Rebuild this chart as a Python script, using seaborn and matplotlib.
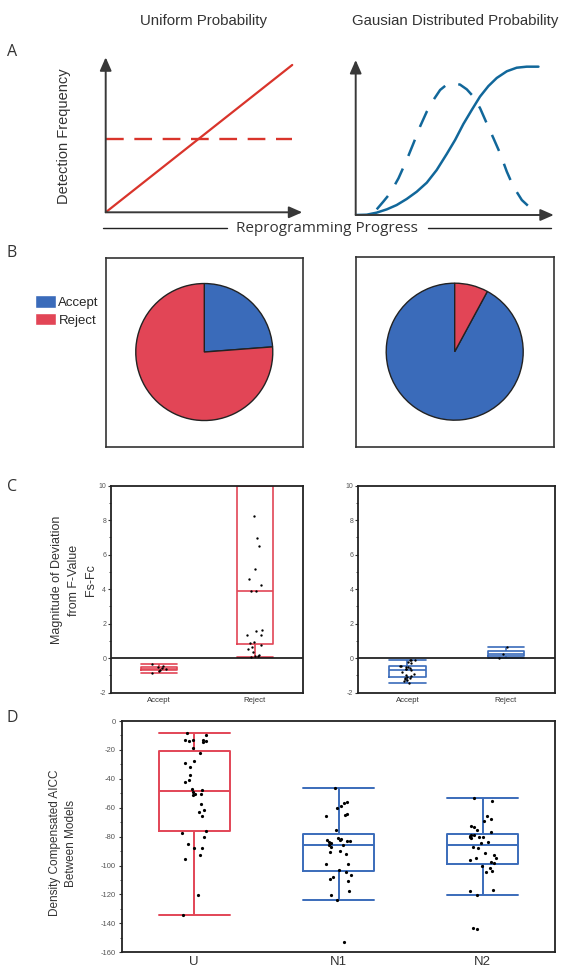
import numpy as np
import pandas as pd
import matplotlib
matplotlib.use("Agg")
import matplotlib.pyplot as plt
import matplotlib.ticker as mticker
from matplotlib.patches import Patch
from matplotlib.lines import Line2D
import seaborn as sns

# ---------------- data ----------------
# A: schematic curves, x and y in 0-100 units
unif_x = [0, 100]
unif_cum = [0, 100]          # solid line
unif_dens = [50, 50]         # dashed line

gauss_cum_x = [0, 6.0, 11.5, 17.0, 22.4, 27.9, 33.4, 38.9, 44.3, 49.8,
               54.4, 58.9, 63.5, 68.0, 72.6, 77.2, 82.7, 88.1, 93.6, 100]
gauss_cum_y = [0, 0.2, 1.6, 3.8, 6.7, 10.8, 15.7, 21.8, 30.3, 41.1,
               50.6, 61.3, 70.8, 79.8, 86.9, 92.4, 96.9, 99.3, 100, 100]
gauss_pdf_x = [11.5, 15.1, 18.8, 23.4, 27.9, 31.6, 35.2, 38.9, 42.5, 46.2, 49.8, 53.5,
               57.1, 60.8, 64.4, 68.1, 71.7, 75.4, 79.0, 82.7, 86.3, 90.9, 96.4]
gauss_pdf_y = [3.8, 9.0, 14.6, 24.7, 37.1, 48.3, 59.6, 69.7, 77.5, 84.3, 87.9, 88.8,
               87.9, 84.7, 79.8, 71.9, 61.8, 51.7, 41.6, 29.2, 19.1, 10.1, 3.8]

# B: share of models (%)
pie_labels = ["Accept", "Reject"]
pie_uniform = [23.8, 76.2]
pie_gauss = [92.1, 7.9]

# C: Fs-Fc
c_groups = ["Accept", "Reject"]
c_unif_accept = [-0.35, -0.45, -0.52, -0.58, -0.62, -0.68, -0.75, -0.87]
c_unif_reject = [0.06, 0.1, 0.14, 0.17, 0.35, 0.52, 0.64, 0.78, 0.89, 0.93, 1.32, 1.34,
                 1.59, 1.62, 3.88, 3.92, 4.27, 4.62, 5.15, 6.52, 6.99, 8.23,
                 10.6, 11.5, 12.8, 14.0, 15.5, 17.0, 19.5, 22.0]
c_gauss_accept = [-1.42, -1.35, -1.29, -1.2, -1.15, -1.12, -1.1, -1.05, -0.98, -0.9,
                  -0.78, -0.7, -0.65, -0.62, -0.58, -0.52, -0.5, -0.48, -0.46, -0.3,
                  -0.2, -0.13, -0.1, -0.08]
c_gauss_reject = [0.04, 0.23, 0.65]

# D: density compensated AICC
d_groups = ["U", "N1", "N2"]
d_U = [-8.6, -9.5, -14.1, -14.6, -13.4, -13.0, -13.0, -14.1, -18.8, -21.8, -27.7, -28.9,
       -31.7, -37.2, -40.5, -42.1, -46.9, -48.8, -50.2, -47.4, -50.6, -51.3, -57.1, -61.7,
       -62.7, -65.9, -75.8, -77.5, -80.0, -85.1, -88.1, -87.9, -92.5, -95.7, -120.7, -134.1]
d_N1 = [-46.2, -55.7, -60.0, -59.0, -57.0, -64.0, -65.0, -65.8, -75.6, -80.8, -82.0, -82.1,
        -81.6, -83.0, -83.0, -84.0, -84.4, -86.0, -86.0, -87.0, -89.7, -90.6, -92.3, -99.0,
        -99.0, -103.4, -104.7, -106.8, -107.7, -109.0, -110.5, -117.7, -120.7, -123.5, -152.8]
d_N2 = [-55.5, -53.6, -65.4, -67.5, -68.9, -73.5, -72.8, -75.4, -76.8, -79.0, -79.8, -80.5,
        -81.0, -79.0, -80.0, -80.2, -84.0, -84.6, -87.0, -88.0, -91.5, -92.5, -94.8, -94.8,
        -96.4, -97.8, -98.5, -100.0, -102.0, -103.6, -104.7, -116.8, -117.5, -120.2,
        -143.6, -143.4]

# ---------------- style ----------------
RED_A = "#d9342b"
BLUE_A = "#11679a"
BLUE = "#3a6bba"
RED = "#e24556"
AX = "#383838"
SANS = ["Liberation Sans", "DejaVu Sans"]
MYRIAD = ["Open Sans", "DejaVu Sans"]

sns.set_style("ticks")
plt.rcParams["font.family"] = SANS
plt.rcParams["axes.unicode_minus"] = False

W, H = 561, 980
fig = plt.figure(figsize=(W / 100, H / 100), dpi=100)


def px_axes(l, t, r, b):
    # axes placed by pixel box (left, top, right, bottom)
    return fig.add_axes([l / W, 1 - b / H, (r - l) / W, (b - t) / H])


def axis_arrows(ax):
    for s in ax.spines.values():
        s.set_visible(False)
    ax.set_xticks([])
    ax.set_yticks([])
    ax.set_xlabel("")
    ax.set_ylabel("")
    ax.patch.set_alpha(0)
    kw = dict(arrowstyle="-|>,head_length=0.8,head_width=0.35", color=AX, lw=1.4,
              shrinkA=0, shrinkB=0, mutation_scale=10)
    ax.annotate("", xy=(1, 0), xytext=(0, 0), xycoords="axes fraction", arrowprops=kw)
    ax.annotate("", xy=(0, 1), xytext=(0, 0), xycoords="axes fraction", arrowprops=kw)


def box_strip(ax, groups, values, palette, width, jitter, size, lw):
    df = pd.DataFrame({
        "group": np.repeat(groups, [len(v) for v in values]),
        "value": np.concatenate(values),
    })
    sns.boxplot(data=df, x="group", y="value", hue="group", order=groups, hue_order=groups,
                palette=palette, fill=False, legend=False, width=width, linewidth=lw,
                showfliers=False, capwidths=width, ax=ax)
    sns.stripplot(data=df, x="group", y="value", order=groups, color="black", size=size,
                  jitter=jitter, linewidth=0, zorder=3, ax=ax)
    ax.set_xlabel("")
    ax.set_ylabel("")
    ax.set_xlim(-0.5, len(groups) - 0.5)
    for s in ax.spines.values():
        s.set_visible(True)
        s.set_color("#222222")
        s.set_linewidth(1.3)


np.random.seed(7)

# ---------------- A ----------------
axA1 = px_axes(105.7, 57.3, 302.3, 212.3)
sns.lineplot(x=unif_x, y=unif_cum, ax=axA1, color=RED_A, lw=1.6, estimator=None)
sns.lineplot(x=unif_x, y=unif_dens, ax=axA1, color=RED_A, lw=1.7, estimator=None,
             linestyle=(0, (7.5, 4.5)))
axA1.set_xlim(0, 105.4)
axA1.set_ylim(0, 105.2)
axis_arrows(axA1)

axA2 = px_axes(355.7, 60, 553.8, 215)
sns.lineplot(x=gauss_cum_x, y=gauss_cum_y, ax=axA2, color=BLUE_A, lw=1.8, estimator=None)
sns.lineplot(x=gauss_pdf_x, y=gauss_pdf_y, ax=axA2, color=BLUE_A, lw=1.8, estimator=None,
             linestyle=(0, (7, 5.5)))
axA2.set_xlim(0, 108.4)
axA2.set_ylim(0, 104.5)
axis_arrows(axA2)

fig.text(204 / W, 1 - 21 / H, "Uniform Probability", ha="center", va="center",
         fontsize=10.8, color="#333333")
fig.text(455 / W, 1 - 21 / H, "Gausian Distributed Probability", ha="center", va="center",
         fontsize=10.8, color="#333333")
fig.text(64 / W, 1 - 136 / H, "Detection Frequency", rotation=90, ha="center", va="center",
         fontsize=10.5, color="#333333")
fig.text(327 / W, 1 - 228 / H, "Reprogramming Progress", ha="center", va="center",
         fontsize=11, color="#333333", family=MYRIAD)
fig.add_artist(Line2D([103 / W, 227 / W], [1 - 227.5 / H] * 2, color="#222222", lw=1))
fig.add_artist(Line2D([428 / W, 551 / W], [1 - 227.5 / H] * 2, color="#222222", lw=1))

# ---------------- B ----------------
wedge_kw = dict(edgecolor="#222222", linewidth=1.0)
axB1 = px_axes(105.5, 257.7, 303.4, 446.7)
axB1.pie(pie_uniform, colors=[BLUE, RED], startangle=90, counterclock=False, radius=1,
         center=(0, 0), frame=True, wedgeprops=wedge_kw)
axB1.set_aspect("auto")
axB1.set_xlim(-1.442, 1.447)
axB1.set_ylim(-1.382, 1.377)

axB2 = px_axes(356, 257.3, 554.5, 447.3)
axB2.pie(pie_gauss, colors=[BLUE, RED], startangle=90, counterclock=True, radius=1,
         center=(0, 0), frame=True, wedgeprops=wedge_kw)
axB2.set_aspect("auto")
axB2.set_xlim(-1.441, 1.457)
axB2.set_ylim(-1.396, 1.378)

for ax in (axB1, axB2):
    ax.set_xticks([])
    ax.set_yticks([])
    for s in ax.spines.values():
        s.set_visible(True)
        s.set_color("#333333")
        s.set_linewidth(1.2)

fig.legend(handles=[Patch(facecolor=BLUE), Patch(facecolor=RED)], labels=pie_labels,
           loc="upper left", bbox_to_anchor=(34.7 / W, 1 - 295.5 / H), frameon=False,
           prop=dict(size=9.5), handlelength=1.6, handleheight=1.05,
           handletextpad=0.2, labelspacing=0.3, borderpad=0, borderaxespad=0)

# ---------------- C ----------------
axC1 = px_axes(111, 485.7, 302.7, 692.7)
box_strip(axC1, c_groups, [c_unif_accept, c_unif_reject], {"Accept": RED, "Reject": RED},
          width=0.37, jitter=0.08, size=1.7, lw=1.2)
axC2 = px_axes(358.3, 485.7, 555, 692.7)
box_strip(axC2, c_groups, [c_gauss_accept, c_gauss_reject], {"Accept": BLUE, "Reject": BLUE},
          width=0.37, jitter=0.08, size=1.7, lw=1.2)
for ax in (axC1, axC2):
    ax.axhline(0, color="#111111", lw=1.2, zorder=2)
    ax.set_ylim(-2, 10)
    ax.yaxis.set_major_locator(mticker.MultipleLocator(2))
    ax.yaxis.set_minor_locator(mticker.MultipleLocator(1))
    ax.tick_params(axis="y", which="major", length=2.5, width=0.8, pad=1,
                   labelsize=5, labelcolor="#555555", color="#333333")
    ax.tick_params(axis="y", which="minor", length=1.5, width=0.6, color="#333333")
    ax.tick_params(axis="x", length=0, pad=3, labelsize=5.6, labelcolor="#333333")

fig.text(74 / W, 1 - 580 / H, "Magnitude of Deviation\nfrom F-Value\nFs-Fc", rotation=90,
         ha="center", va="center", multialignment="center", linespacing=1.6,
         fontsize=9, color="#333333")

# ---------------- D ----------------
axD = px_axes(122, 721, 555, 952.3)
box_strip(axD, d_groups, [d_U, d_N1, d_N2], {"U": RED, "N1": BLUE, "N2": BLUE},
          width=0.49, jitter=0.09, size=2.3, lw=1.4)
axD.set_ylim(-160, 0)
axD.yaxis.set_major_locator(mticker.MultipleLocator(20))
axD.yaxis.set_minor_locator(mticker.MultipleLocator(10))
axD.tick_params(axis="y", which="major", length=2.5, width=0.8, pad=2,
                labelsize=5.5, labelcolor="#555555", color="#333333")
axD.tick_params(axis="y", which="minor", length=1.5, width=0.6, color="#333333")
axD.tick_params(axis="x", length=0, pad=3, labelsize=9.5, labelcolor="#333333")

fig.text(63 / W, 1 - 843 / H, "Density Compensated AICC\nBetween Models", rotation=90,
         ha="center", va="center", multialignment="center", linespacing=1.45,
         fontsize=8.5, color="#333333")

# panel letters
for letter, y in (("A", 52), ("B", 253), ("C", 487), ("D", 718)):
    fig.text(12 / W, 1 - y / H, letter, ha="center", va="center", fontsize=11.5,
             color="#333333", family=MYRIAD)

fig.savefig("out.png", dpi=100)
